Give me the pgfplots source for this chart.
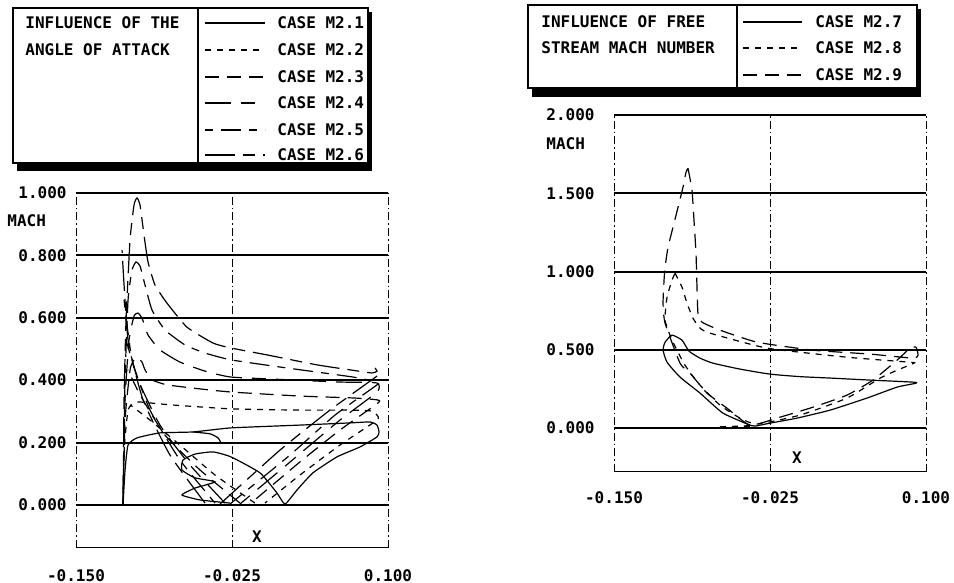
\documentclass[border=0pt]{standalone}
\usepackage{fontspec}
\setmainfont{DejaVu Sans Mono}
\usepackage{pgfplots}
\pgfplotsset{compat=1.18}

\pgfplotsset{
  machax/.style={
    scale only axis, width=156pt, anchor=south west,
    xmin=-0.15, xmax=0.1, xtick={-0.15,-0.025,0.1},
    xmajorgrids, ymajorgrids,
    major x grid style={black, dash pattern=on 4pt off 1.5pt on 0.8pt off 1.5pt, line width=0.45pt},
    major y grid style={black, solid, line width=1pt},
    axis line style={draw=none},
    major tick length=0pt,
    tick label style={font=\fontsize{8pt}{9pt}\selectfont\bfseries},
    xticklabel style={anchor=north, inner sep=0pt},
    yticklabel style={anchor=east, inner sep=0pt},
    /pgf/number format/.cd, fixed, fixed zerofill, precision=3, assume math mode=true,
    /pgfplots/.cd,
    every axis plot/.append style={black, line width=0.6pt, smooth, tension=0.3},
  }
}

\begin{document}
\begin{tikzpicture}[
  font=\fontsize{8pt}{9pt}\selectfont\bfseries,
  c1/.style={solid},
  c2/.style={dash pattern=on 3pt off 3pt},
  c3/.style={dash pattern=on 7pt off 4pt},
  c4/.style={dash pattern=on 13pt off 5pt on 7pt off 5pt},
  c5/.style={dash pattern=on 4pt off 4pt on 10pt off 4pt},
  c6/.style={dash pattern=on 15pt off 4pt on 6pt off 4pt},
]
\path[use as bounding box] (0,0) rectangle (477pt,291.5pt);

% ---------- left: angle of attack ----------
\begin{axis}[machax, at={(38pt,17.5pt)}, height=177.5pt,
  ymin=-0.138, ymax=1.0, ytick={0,0.2,0.4,0.6,0.8,1.0},
  yticklabel style={xshift=-4.5pt}, xticklabel style={yshift=-10.5pt}]
\draw[line width=0.6pt] (rel axis cs:0,0) -- (rel axis cs:1,0);
% M2.1
\addplot[c1] coordinates {(-0.1123,0) (-0.1107,0.112) (-0.1083,0.192) (-0.1011,0.215)
 (-0.0827,0.231) (-0.0563,0.234) (-0.0258,0.247) (0.0295,0.256) (0.0696,0.263)
 (0.0856,0.266) (0.0912,0.256) (0.0928,0.234) (0.0912,0.218) (0.0776,0.186)
 (0.0591,0.154) (0.0399,0.103) (0.0271,0.048) (0.0175,0.003) (0.0111,0.038)
 (-0.0026,0.103) (-0.0258,0.154) (-0.0402,0.170) (-0.0547,0.163) (-0.0643,0.144)
 (-0.0651,0.112) (-0.0547,0.087) (-0.0386,0.074) (-0.0547,0.054) (-0.0651,0.032)
 (-0.0506,0.016) (-0.0266,0.006)};
\addplot[c1] coordinates {(-0.0563,0.234) (-0.0426,0.228) (-0.0362,0.215) (-0.0338,0.199)};
% M2.2
\addplot[c2] coordinates {(-0.1123,0) (-0.1115,0.176) (-0.1083,0.304) (-0.1035,0.327)
 (-0.0987,0.330) (-0.0747,0.321) (-0.0258,0.308) (0.0295,0.304) (0.0696,0.304)
 (0.0872,0.301) (0.0912,0.288) (0.0912,0.272) (0.0615,0.192) (0.0295,0.096) (0.0014,0.006)};
\addplot[c2] coordinates {(-0.0066,0.006) (-0.0386,0.096) (-0.0667,0.192) (-0.0907,0.272) (-0.1067,0.321)};
% M2.3
\addplot[c3] coordinates {(-0.1123,0) (-0.1107,0.272) (-0.1067,0.433) (-0.1035,0.465)
 (-0.1003,0.471) (-0.0971,0.458) (-0.0947,0.433) (-0.0891,0.401) (-0.0771,0.385)
 (-0.0506,0.372) (-0.0258,0.362) (0.0295,0.349) (0.0720,0.343) (0.0912,0.337)
 (0.0920,0.327) (0.0615,0.240) (0.0295,0.138) (-0.0106,0.003)};
\addplot[c3] coordinates {(-0.0186,0.006) (-0.0506,0.112) (-0.0787,0.224) (-0.0987,0.353) (-0.1083,0.433)};
% M2.4
\addplot[c4] coordinates {(-0.1123,0) (-0.1107,0.337) (-0.1075,0.529) (-0.1035,0.606)
 (-0.1003,0.615) (-0.0971,0.599) (-0.0923,0.545) (-0.0827,0.497) (-0.0667,0.458)
 (-0.0466,0.429) (-0.0258,0.410) (0.0215,0.401) (0.0615,0.394) (0.0912,0.391)
 (0.0912,0.362) (0.0615,0.272) (0.0255,0.151) (-0.0186,0.003)};
\addplot[c4] coordinates {(-0.0306,0.006) (-0.0587,0.128) (-0.0827,0.256) (-0.1003,0.401) (-0.1099,0.529)};
% M2.5
\addplot[c5] coordinates {(-0.1123,0) (-0.1107,0.401) (-0.1083,0.657) (-0.1051,0.753)
 (-0.1019,0.779) (-0.0987,0.766) (-0.0947,0.705) (-0.0891,0.625) (-0.0787,0.561)
 (-0.0627,0.513) (-0.0466,0.487) (-0.0258,0.465) (0.0191,0.439) (0.0720,0.410)
 (0.0912,0.394) (0.0912,0.385) (0.0575,0.288) (0.0215,0.160) (-0.0266,0.003)};
\addplot[c5] coordinates {(-0.0386,0.006) (-0.0667,0.144) (-0.0907,0.304) (-0.1051,0.465) (-0.1115,0.657)};
% M2.6
\addplot[c6] coordinates {(-0.1123,0) (-0.1115,0.337) (-0.1099,0.593) (-0.1067,0.849)
 (-0.1035,0.962) (-0.1011,0.984) (-0.0987,0.962) (-0.0955,0.865) (-0.0923,0.779)
 (-0.0867,0.705) (-0.0771,0.647) (-0.0611,0.570) (-0.0402,0.519) (-0.0258,0.503)
 (0.0030,0.481) (0.0431,0.449) (0.0696,0.433) (0.0872,0.423) (0.0912,0.429) (0.0896,0.439)};
\addplot[c6] coordinates {(0.0912,0.413) (0.0535,0.304) (0.0135,0.176) (-0.0346,0.003)};
\addplot[c6] coordinates {(-0.0466,0.006) (-0.0747,0.160) (-0.0963,0.337) (-0.1083,0.529) (-0.1131,0.817)};
\end{axis}

% ---------- right: free stream Mach number ----------
\begin{axis}[machax, at={(307pt,55.5pt)}, height=178.5pt,
  ymin=-0.28, ymax=2.0, ytick={0,0.5,1.0,1.5,2.0},
  yticklabel style={xshift=-9.5pt}, xticklabel style={yshift=-9.5pt}]
\draw[line width=0.6pt] (rel axis cs:0,0) -- (rel axis cs:1,0);
% M2.7
\addplot[c1] coordinates {(-0.0410,0.019) (-0.0627,0.096) (-0.0811,0.224) (-0.0971,0.326)
 (-0.1075,0.421) (-0.1107,0.498) (-0.1091,0.549) (-0.1035,0.594) (-0.0955,0.562)
 (-0.0899,0.492) (-0.0811,0.447) (-0.0707,0.415) (-0.0490,0.377) (-0.0250,0.345)
 (-0.0010,0.329) (0.0255,0.319) (0.0551,0.307) (0.0896,0.294) (0.0920,0.287)
 (0.0768,0.262) (0.0527,0.192) (0.0231,0.115) (-0.0034,0.064) (-0.0250,0.032)
 (-0.0370,0.013) (-0.0410,0.019)};
% M2.8
\addplot[c2] coordinates {(-0.1011,0.990) (-0.0955,0.900) (-0.0915,0.798) (-0.0867,0.702)
 (-0.0811,0.639) (-0.0731,0.607) (-0.0274,0.511) (0.0367,0.453) (0.0872,0.421)
 (0.0904,0.415) (0.0768,0.370) (0.0631,0.319) (0.0367,0.192) (-0.0010,0.083)
 (-0.0354,0.026) (-0.0490,0.064) (-0.0651,0.147) (-0.0811,0.275) (-0.0931,0.402)
 (-0.1035,0.562) (-0.1091,0.690) (-0.1075,0.837) (-0.1035,0.945) (-0.1011,0.990)};
% M2.9
\addplot[c3] coordinates {(-0.0907,1.660) (-0.0875,1.520) (-0.0859,1.328) (-0.0843,1.118)
 (-0.0835,0.900) (-0.0827,0.734) (-0.0795,0.677) (-0.0651,0.626) (-0.0354,0.549)
 (0.0095,0.498) (0.0551,0.473) (0.0896,0.447) (0.0936,0.466) (0.0920,0.517)
 (0.0872,0.511) (0.0768,0.434) (0.0575,0.307) (0.0367,0.211) (0.0095,0.134)
 (-0.0170,0.070) (-0.0410,0.019) (-0.0595,0.128) (-0.0755,0.224) (-0.0891,0.351)
 (-0.0971,0.415) (-0.1091,0.671) (-0.1107,0.798) (-0.1099,0.945) (-0.1091,1.028)
 (-0.1067,1.156) (-0.1027,1.284) (-0.0987,1.411) (-0.0947,1.539) (-0.0923,1.635) (-0.0907,1.660)};
\addplot[c2, line width=1.2pt] coordinates {(-0.0651,0.005) (-0.0530,0.008) (-0.0410,0.012)};
\end{axis}

% ---------- annotations, in pixel units of the reference ----------
\begin{scope}[x=0.5pt, y=-0.5pt, yshift=291.5pt]
\node[anchor=west, inner sep=0pt] at (7,221) {MACH};
\node[anchor=west, inner sep=0pt] at (546,144) {MACH};
\node[inner sep=0pt] at (257,537) {X};
\node[inner sep=0pt] at (797,458) {X};

% left legend
\fill (17,12) rectangle (372,171);
\draw[fill=white, line width=0.8pt] (13,8) rectangle (368,163);
\draw[line width=0.6pt] (198,8) -- (198,163);
\node[anchor=west, inner sep=0pt] at (25,23) {INFLUENCE OF THE};
\node[anchor=west, inner sep=0pt] at (25,50) {ANGLE OF ATTACK};
\foreach \s/\yy/\t in {c1/23/1, c2/50/2, c3/77/3, c4/103/4, c5/130/5, c6/155/6}{
  \draw[\s, line width=0.6pt] (205,\yy) -- (265,\yy);
  \node[anchor=west, inner sep=0pt] at (277,\yy) {CASE M2.\t};
}

% right legend
\fill (532,9) rectangle (921,97);
\draw[fill=white, line width=0.8pt] (528,5) rectangle (917,88);
\draw[line width=0.6pt] (737,5) -- (737,88);
\node[anchor=west, inner sep=0pt] at (541,22) {INFLUENCE OF FREE};
\node[anchor=west, inner sep=0pt] at (541,48) {STREAM MACH NUMBER};
\foreach \s/\yy/\t in {c1/22/7, c2/48/8, c3/75/9}{
  \draw[\s, line width=0.6pt] (743,\yy) -- (802,\yy);
  \node[anchor=west, inner sep=0pt] at (815,\yy) {CASE M2.\t};
}
\end{scope}
\end{tikzpicture}
\end{document}
